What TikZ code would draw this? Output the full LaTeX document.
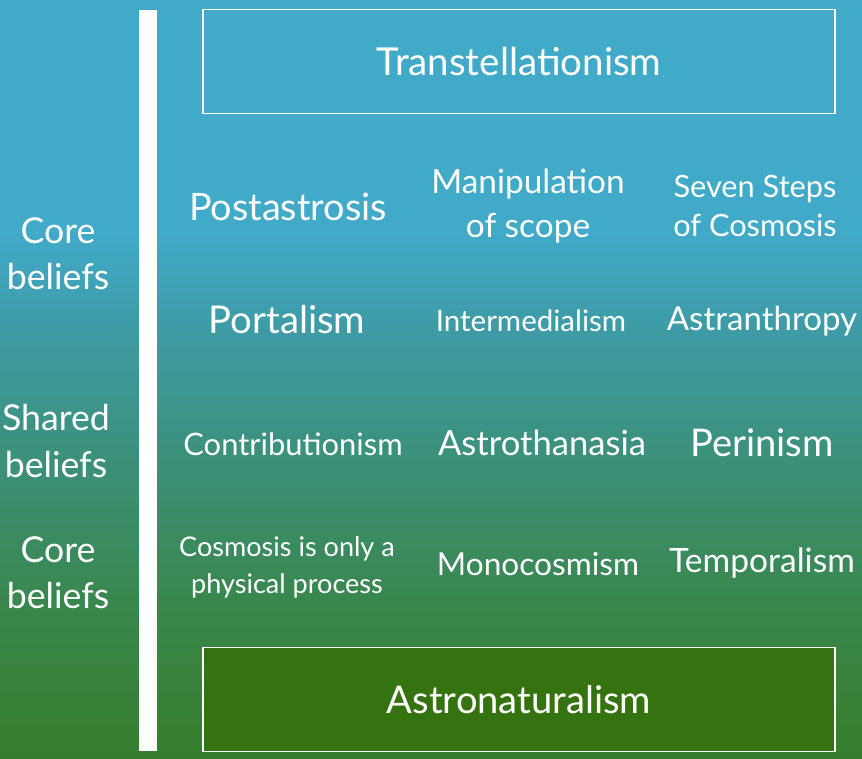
\documentclass[tikz,border=0pt]{standalone}
\usepackage{fontspec}
\setmainfont{Lato}
\definecolor{skyblue}{RGB}{65,170,201}
\definecolor{seateal}{RGB}{62,155,165}
\definecolor{tealgreen}{RGB}{60,145,125}
\definecolor{fieldgreen}{RGB}{57,134,72}
\definecolor{groundgreen}{RGB}{54,126,45}
\definecolor{rootgreen}{RGB}{53,115,16}
\pgfdeclareverticalshading{skytoground}{100bp}{color(0bp)=(groundgreen); color(25bp)=(groundgreen);
  color(34.2bp)=(fieldgreen); color(45.4bp)=(tealgreen); color(53.3bp)=(seateal);
  color(59.8bp)=(skyblue); color(75bp)=(skyblue); color(100bp)=(skyblue)}
\newcommand{\fsz}[2]{\fontsize{#1}{#2}\selectfont}
\begin{document}
\begin{tikzpicture}[x=0.02cm,y=-0.02cm]
\tikzstyle{belief} = [text=white, align=center, inner sep=0pt]
\tikzstyle{schoolbox} = [draw=white, line width=1.1pt, minimum width=12.64cm, minimum height=2.08cm, text=white]
\tikzstyle{rootbox} = [schoolbox, fill=rootgreen]

% background and bar
\shade[shading=skytoground] (0,0) rectangle (862,759);
\useasboundingbox (0,0) rectangle (862,759);
\fill[white] (139,10) rectangle (157,751);

\node(transtellationism) [schoolbox, font=\fsz{21.9pt}{26pt}] at (519,61.5) {Transtellationism};
\node(astronaturalism) [rootbox, font=\fsz{21.7pt}{26pt}] at (519,699.5) {Astronaturalism};

% left labels
\node(coreTop) [belief, font=\fsz{20.3pt}{26pt}] at (58,254) {Core\\beliefs};
\node(shared) [belief, font=\fsz{20.3pt}{26.7pt}] at (56,441) {Shared\\beliefs};
\node(coreBottom) [belief, font=\fsz{20.3pt}{26pt}] at (58,573) {Core\\beliefs};

% belief grid
\node(postastrosis) [belief, font=\fsz{21.5pt}{26pt}] at (288,207) {Postastrosis};
\node(manipulation) [belief, font=\fsz{19pt}{25pt}] at (528,206) {Manipulation\\of scope};
\node(sevenSteps) [belief, font=\fsz{17.5pt}{22pt}] at (755,206) {Seven Steps\\of Cosmosis};
\node(portalism) [belief, font=\fsz{21.8pt}{26pt}] at (287,320) {Portalism};
\node(intermedialism) [belief, font=\fsz{16.8pt}{22pt}] at (531,321) {Intermedialism};
\node(astranthropy) [belief, font=\fsz{18.8pt}{24pt}] at (762,321) {Astranthropy};
\node(contributionism) [belief, font=\fsz{17.6pt}{22pt}] at (293,444) {Contributionism};
\node(astrothanasia) [belief, font=\fsz{19.7pt}{24pt}] at (542,443) {Astrothanasia};
\node(perinism) [belief, font=\fsz{21.7pt}{26pt}] at (762,443) {Perinism};
\node(physical) [belief, font=\fsz{15.4pt}{21pt}] at (287,567) {Cosmosis is only a\\physical process};
\node(monocosmism) [belief, font=\fsz{18pt}{24pt}] at (538,564) {Monocosmism};
\node(temporalism) [belief, font=\fsz{19.1pt}{24pt}] at (762,563) {Temporalism};
\end{tikzpicture}
\end{document}
